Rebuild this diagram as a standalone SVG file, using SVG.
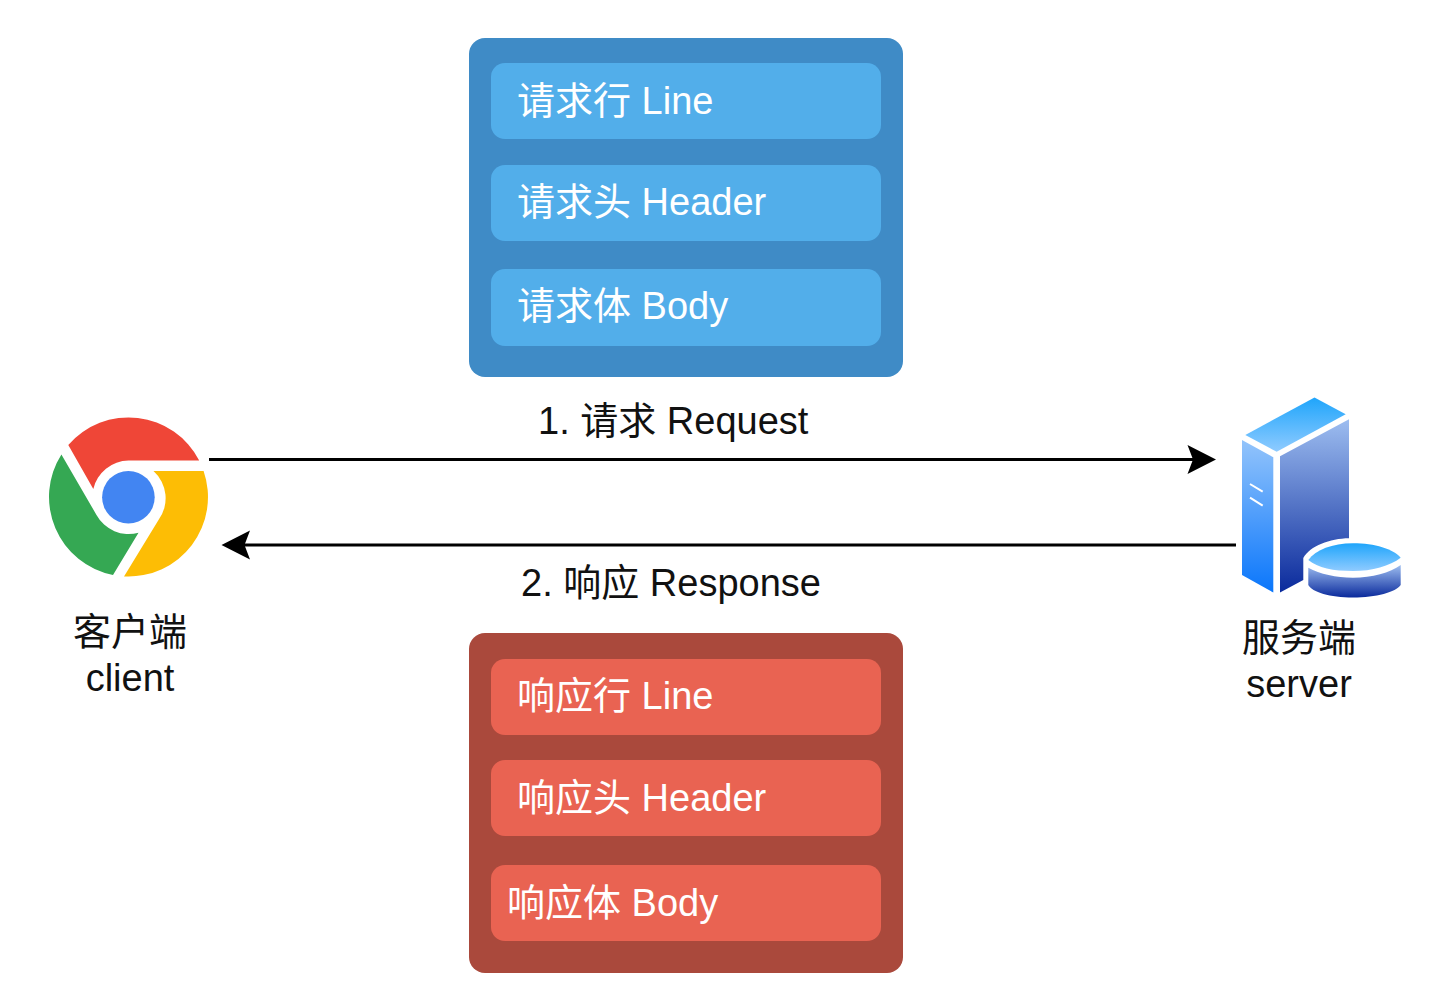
<svg xmlns="http://www.w3.org/2000/svg" width="1439" height="994" viewBox="0 0 1439 994">
  <style>
    text { font-family: "Liberation Sans", "Noto Sans CJK SC", sans-serif; font-size: 38px; }
    .row { fill: #fff; }
    .caption { fill: #111; }
    .mid { text-anchor: middle; }
    .flow { fill: none; stroke: #000; stroke-width: 3; }
    .req-panel { fill: #3f8bc6; }
    .req-row { fill: #52aeea; }
    .res-panel { fill: #aa493c; }
    .res-row { fill: #e96352; }
  </style>
  <defs>
    <linearGradient id="capTop" x1="0" y1="0" x2="0" y2="1">
      <stop offset="0" stop-color="#1fa5fb"/><stop offset="1" stop-color="#8fcbff"/>
    </linearGradient>
    <linearGradient id="sideLeft" x1="0" y1="0" x2="0" y2="1">
      <stop offset="0" stop-color="#93c4fb"/><stop offset="1" stop-color="#0a76fb"/>
    </linearGradient>
    <linearGradient id="sideRight" x1="0" y1="0" x2="0" y2="1">
      <stop offset="0" stop-color="#9dbdf0"/><stop offset="1" stop-color="#0a2a9c"/>
    </linearGradient>
  </defs>

  <g id="request-panel">
    <rect class="req-panel" x="469" y="38" width="434" height="339" rx="16"/>
    <g id="request-line">
      <rect class="req-row" x="491" y="63" width="390" height="76" rx="14"/>
      <text class="row" x="517" y="114">请求行 Line</text>
    </g>
    <g id="request-header">
      <rect class="req-row" x="491" y="165" width="390" height="76" rx="14"/>
      <text class="row" x="517" y="215">请求头 Header</text>
    </g>
    <g id="request-body">
      <rect class="req-row" x="491" y="269" width="390" height="77" rx="14"/>
      <text class="row" x="517" y="319">请求体 Body</text>
    </g>
  </g>

  <g id="response-panel">
    <rect class="res-panel" x="469" y="633" width="434" height="340" rx="16"/>
    <g id="response-line">
      <rect class="res-row" x="491" y="659" width="390" height="76" rx="14"/>
      <text class="row" x="517" y="709">响应行 Line</text>
    </g>
    <g id="response-header">
      <rect class="res-row" x="491" y="760" width="390" height="76" rx="14"/>
      <text class="row" x="517" y="811">响应头 Header</text>
    </g>
    <g id="response-body">
      <rect class="res-row" x="491" y="865" width="390" height="76" rx="14"/>
      <text class="row" x="507" y="916">响应体 Body</text>
    </g>
  </g>

  <g id="connectors">
    <path class="flow" d="M209 459.5H1195"/>
    <path d="M1216 459.500L1187.500 445L1193 459.500L1187.500 474Z"/>
    <text class="caption" x="538" y="434">1. 请求 Request</text>
    <path class="flow" d="M1236 545H243"/>
    <path d="M221.500 545L250 530.500L244.500 545L250 559.500Z"/>
    <text class="caption" x="521" y="596">2. 响应 Response</text>
  </g>

  <g id="client">
    <path fill="#ef4637" d="M68.300 445A79.500 79.500 0 0 1 199.200 460.500H128.500A36.700 36.700 0 0 0 93.300 489Z"/>
    <path fill="#35a853" d="M61.400 454.400A79.500 79.500 0 0 0 113 575L138.500 532.700A36.700 36.700 0 0 1 96.500 515Z"/>
    <path fill="#fdbd05" d="M153.500 471H203.600A79.500 79.500 0 0 1 124 576.400L158.500 520A36.700 36.700 0 0 0 153.500 471Z"/>
    <circle fill="#4285f2" cx="128.400" cy="497.200" r="26.300"/>
    <text class="caption mid" x="130" y="645">客户端</text>
    <text class="caption mid" x="130" y="691">client</text>
  </g>

  <g id="server">
    <path fill="url(#capTop)" d="M1314.500 397.500L1345.700 414.300L1276.700 451.700L1245.300 435Z"/>
    <path fill="url(#sideLeft)" d="M1242 440L1273.300 457.300V592.500L1242 575Z"/>
    <path fill="url(#sideRight)" d="M1280 456.300L1349 419.300V538.300C1330 538.500 1310 546 1303.300 558V580L1280 592.500Z"/>
    <path fill="none" stroke="#fff" stroke-width="2" d="M1250 484L1262.700 491.700M1250 497.700L1262.700 505.700"/>
    <path fill="url(#capTop)" d="M1308.300 560C1316 550 1332 543.300 1353 543.300C1375 543.300 1393 549 1400.700 557.700C1390 566 1372 571 1353 571C1333 571 1318 568 1308.300 560Z"/>
    <path fill="url(#sideRight)" d="M1308.300 567.700C1320 574 1336 577.700 1353 577.700C1372 577.700 1390 573 1400.700 565V585C1396 592 1376 597.500 1353 597.500C1330 597.500 1312 592 1308.300 585Z"/>
    <text class="caption mid" x="1299" y="651">服务端</text>
    <text class="caption mid" x="1299" y="697">server</text>
  </g>
</svg>
